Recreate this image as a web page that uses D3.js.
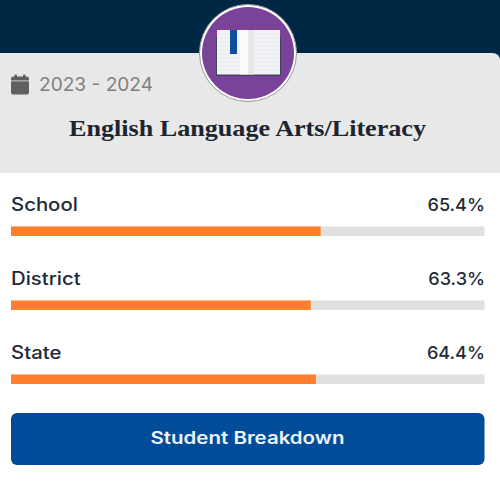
<!DOCTYPE html>
<html><head><meta charset="utf-8">
<script src="https://cdn.jsdelivr.net/npm/d3@7"></script>
<style>html,body{margin:0;padding:0;background:#fff}svg{display:block}</style>
</head><body>
<svg id="c" width="500" height="481"></svg>
<script>
const categories = ["School", "District", "State"];
const values = [65.4, 63.3, 64.4];
const schoolYear = "2023 - 2024";
const subject = "English Language Arts/Literacy";
const buttonLabel = "Student Breakdown";

const svg = d3.select("#c");
const sans = "Inter, 'Open Sans', sans-serif";
const serif = "'Liberation Serif', 'DejaVu Serif', serif";

// widen Inter glyphs toward the reference's geometric sans
function stretch(sel, factor) {
  sel.attr("lengthAdjust","spacingAndGlyphs")
     .attr("textLength", function(){ return this.getComputedTextLength()*factor; });
}

// header band and grey card
svg.append("rect").attr("x",0).attr("y",0).attr("width",500).attr("height",60).attr("fill","#002845");
svg.append("path").attr("fill","#e8e8e8").attr("d","M0,53 H492 Q500,53 500,61 V173 H0 Z");

// calendar icon
const cal = svg.append("g").attr("fill","#5f5f5f");
cal.append("rect").attr("x",11).attr("y",76.5).attr("width",18).attr("height",18).attr("rx",2);
cal.append("rect").attr("x",14.5).attr("y",74.5).attr("width",2.5).attr("height",4).attr("rx",1);
cal.append("rect").attr("x",23).attr("y",74.5).attr("width",2.5).attr("height",4).attr("rx",1);
svg.append("rect").attr("x",11).attr("y",80.5).attr("width",18).attr("height",0.8).attr("fill","#e8e8e8");

svg.append("text").attr("x",39).attr("y",91).attr("font-family",sans).attr("font-size",19)
  .attr("fill","#808080").attr("textLength",114).attr("lengthAdjust","spacingAndGlyphs").text(schoolYear);

svg.append("text").attr("x",247.5).attr("y",136).attr("text-anchor","middle")
  .attr("font-family",serif).attr("font-weight",700).attr("font-size",22.5)
  .attr("fill","#1c2430").attr("textLength",357).attr("lengthAdjust","spacingAndGlyphs").text(subject);

// badge with open book
svg.append("circle").attr("cx",248).attr("cy",53).attr("r",48.5).attr("fill","#fff").attr("stroke","#9a9a9a").attr("stroke-width",1);
svg.append("circle").attr("cx",248).attr("cy",53).attr("r",46).attr("fill","#7b4299");
const book = svg.append("g");
book.append("rect").attr("x",216).attr("y",37).attr("width",65).attr("height",39).attr("fill","#3d4658");
book.append("rect").attr("x",217).attr("y",30).attr("width",63).attr("height",44.5).attr("fill","#f2f3f5");
book.append("rect").attr("x",240).attr("y",30).attr("width",8).attr("height",44.5).attr("fill","#fbfbfc");
book.append("rect").attr("x",248).attr("y",30).attr("width",6).attr("height",44.5).attr("fill","#e6e8eb");
d3.range(34,72,4).forEach(y => {
  book.append("line").attr("x1",218).attr("x2",240).attr("y1",y).attr("y2",y).attr("stroke","#e8eaed");
  book.append("line").attr("x1",255).attr("x2",279).attr("y1",y).attr("y2",y).attr("stroke","#e8eaed");
});
book.append("rect").attr("x",230).attr("y",30).attr("width",7).attr("height",24).attr("fill","#0b4f9c");

// bars
const x = d3.scaleLinear().domain([0,100]).range([11,484.5]);
const y = d3.scalePoint().domain(categories).range([226.5,374.5]);
const rows = categories.map((c,i) => ({c, v: values[i]}));
const row = svg.selectAll("g.row").data(rows).join("g").attr("class","row");
row.append("rect").attr("x",x(0)).attr("y",d=>y(d.c)).attr("width",x(100)-x(0)).attr("height",9.5).attr("fill","#e0e0e0");
row.append("rect").attr("x",x(0)).attr("y",d=>y(d.c)).attr("width",d=>x(d.v)-x(0)).attr("height",9.5).attr("fill","#ff7f2e");
row.append("text").attr("x",11).attr("y",d=>y(d.c)-15.5).attr("font-family",sans).attr("font-weight",500)
  .attr("font-size",18).attr("fill","#1f2a38").text(d=>d.c).call(stretch,1.13);
row.append("text").attr("x",485).attr("y",d=>y(d.c)-15.5).attr("text-anchor","end").attr("font-family",sans).attr("font-weight",500)
  .attr("font-size",17.5).attr("fill","#1f2a38").text(d=>d.v.toFixed(1)+"%").call(stretch,1.035);

// button
svg.append("rect").attr("x",11).attr("y",413).attr("width",473.5).attr("height",52).attr("rx",6).attr("fill","#004c99");
svg.append("text").attr("x",247.5).attr("y",444).attr("text-anchor","middle").attr("font-family",sans).attr("font-weight",600)
  .attr("font-size",17.5).attr("fill","#eef3f9").attr("textLength",194).attr("lengthAdjust","spacingAndGlyphs").text(buttonLabel);
</script>
</body></html>
